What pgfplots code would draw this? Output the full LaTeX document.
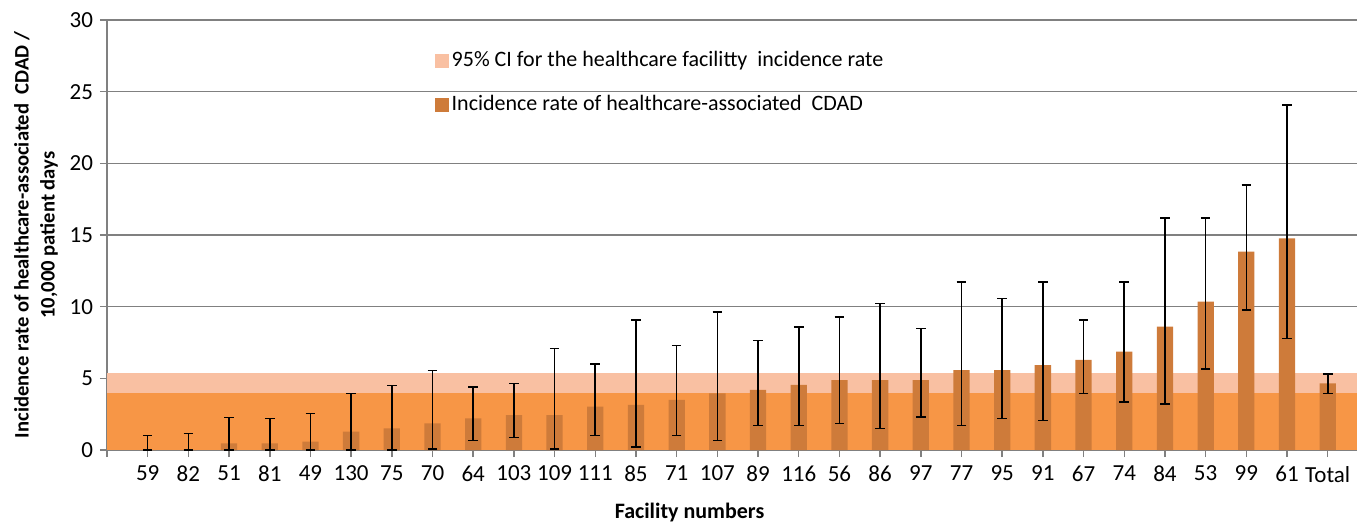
\documentclass[border=0pt]{standalone}
\usepackage{fontspec}
\setmainfont{Carlito}
\usepackage{pgfplots}
\usepackage{pgfplotstable}
\pgfplotsset{compat=1.18}
\definecolor{band}{RGB}{247,150,70}
\definecolor{ciband}{RGB}{249,192,162}
\definecolor{barc}{RGB}{206,123,58}
\definecolor{gridc}{RGB}{128,128,128}
\pgfplotsset{layers/barlayers/.define layer set={axis background,axis grid,axis ticks,pre main,main,axis lines,axis tick labels,axis descriptions,axis foreground}{}}

% facility rate and 95% CI (top/low)
\pgfplotstableread{
x y top low
1 0 1.02 0
2 0 1.14 0
3 0.47 2.28 0
4 0.47 2.19 0
5 0.58 2.54 0
6 1.28 3.93 0
7 1.51 4.51 0
8 1.86 5.56 0.07
9 2.21 4.40 0.67
10 2.44 4.63 0.88
11 2.44 7.07 0.07
12 3.02 6.02 1.02
13 3.14 9.05 0.21
14 3.49 7.30 1.02
15 3.95 9.63 0.67
16 4.19 7.65 1.72
17 4.54 8.58 1.72
18 4.88 9.28 1.84
19 4.88 10.21 1.49
20 4.88 8.47 2.30
21 5.58 11.72 1.72
22 5.58 10.56 2.19
23 5.93 11.72 2.07
24 6.28 9.05 3.93
25 6.86 11.72 3.35
26 8.60 16.17 3.23
27 10.35 16.17 5.67
28 13.84 18.47 9.75
29 14.77 24.07 7.77
30 4.65 5.30 3.93
}\rates

\begin{document}
\begin{tikzpicture}
\begin{axis}[name=ax, set layers=barlayers,
  scale only axis, width=625pt, height=215pt,
  xmin=0, xmax=30.72, ymin=0, ymax=30,
  axis x line=bottom, axis y line=left,
  axis line style={gridc, line width=0.75pt, -},
  xtick={0,...,30},
  xticklabels={,59,82,51,81,49,130,75,70,64,103,109,111,85,71,107,89,116,56,86,97,77,95,91,67,74,84,53,99,61,Total},
  ytick={0,5,...,30},
  ymajorgrids, grid style={gridc, line width=0.75pt},
  tick style={gridc, line width=0.75pt}, tick align=outside, major tick length=3.5pt,
  ticklabel style={font=\fontsize{11.5}{13}\selectfont},
  xticklabel style={yshift=-1pt},
  /pgf/number format/assume math mode=true,
  xlabel={Facility numbers},
  xlabel style={font=\bfseries\fontsize{11}{12}\selectfont, inner sep=0pt, at={(axis description cs:0.466,0)}, anchor=north, yshift=-26.5pt},
  ylabel={Incidence rate of healthcare-associated\ \ CDAD /\\10,000 patient days},
  ylabel style={font=\bfseries\fontsize{10.3}{13}\selectfont, align=center, inner sep=0pt, at={(axis description cs:-0.039,0.5)}, anchor=south},
  legend style={at={(0.262,0.935)}, anchor=north west, draw=none, fill=none,
    font=\fontsize{11}{13}\selectfont, row sep=10pt, inner sep=0pt, nodes={inner sep=1.5pt}},
  legend cell align=left]
\addplot[draw=none, fill=band, forget plot] coordinates {(0,0) (30.72,0) (30.72,3.95) (0,3.95)} -- cycle;
\addplot[draw=none, fill=ciband, forget plot] coordinates {(0,3.95) (30.72,3.95) (30.72,5.35) (0,5.35)} -- cycle;
\addplot[ybar, bar width=8.15pt, fill=barc, draw=none, forget plot,
  error bars/.cd, y dir=both, y explicit, error mark=-,
  error bar style={black, line width=0.8pt},
  error mark options={rotate=90, black, mark size=2.4pt, line width=0.8pt}]
  table[x=x, y=y, y error plus expr=\thisrow{top}-\thisrow{y}, y error minus expr=\thisrow{y}-\thisrow{low}] {\rates};
\addlegendimage{legend image code/.code={\fill[ciband] (0,-3.25pt) rectangle (6.5pt,3.25pt);}}
\addlegendentry{95\% CI for the healthcare facilitty\ \ incidence rate}
\addlegendimage{legend image code/.code={\fill[barc] (0,-3.25pt) rectangle (6.5pt,3.25pt);}}
\addlegendentry{Incidence rate of healthcare-associated\ \ CDAD}
\end{axis}
\pgfresetboundingbox
\path ([xshift=-53.5pt,yshift=-37pt]ax.south west) rectangle ([yshift=10pt]ax.north east);
\end{tikzpicture}
\end{document}
